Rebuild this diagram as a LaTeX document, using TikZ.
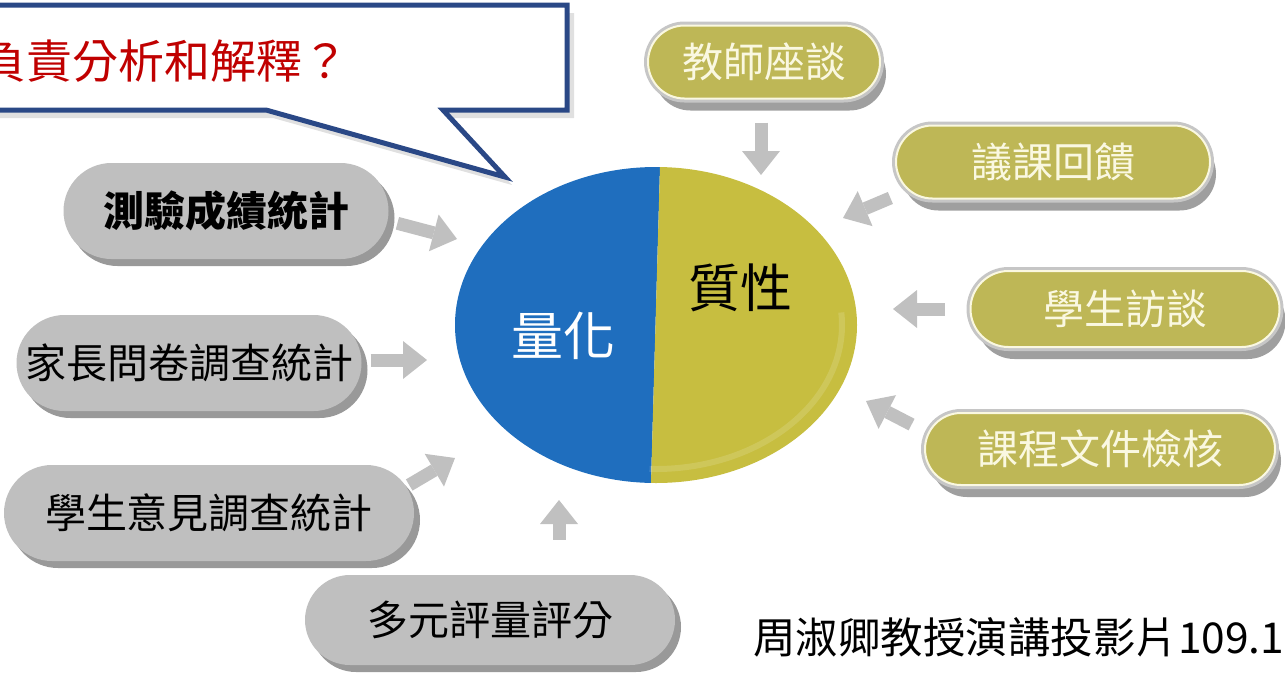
\documentclass[tikz,border=0pt]{standalone}
\usepackage{fontspec}
\newfontfamily\cjk{Noto Sans CJK TC}
\usetikzlibrary{shapes.misc,shadows,arrows.meta}
\definecolor{quantblue}{RGB}{31,110,190}
\definecolor{qualolive}{RGB}{199,190,64}
\definecolor{pillolive}{RGB}{190,183,86}
\definecolor{pillcream}{RGB}{250,248,225}
\definecolor{calloutblue}{RGB}{42,72,134}
\definecolor{callred}{RGB}{192,0,0}
\definecolor{arrowgray}{RGB}{192,192,192}
\newcommand{\pilltext}{\cjk\fontsize{41}{45}\selectfont}

\begin{document}
\begin{tikzpicture}[x=1pt,y=-1pt,
    graypill/.style={rounded rectangle, fill=gray!50, inner sep=0pt,
      general shadow={fill=gray!80, shadow xshift=6pt, shadow yshift=-7pt}},
    olivepill/.style={rounded rectangle, fill=pillolive, draw=pillcream, line width=2pt,
      inner sep=0pt, text=pillcream, font=\pilltext,
      general shadow={fill=gray!75, shadow xshift=6pt, shadow yshift=-12pt},
      preaction={draw=gray!45, line width=8pt}},
    blockarrow/.style={draw=arrowgray, line width=13pt,
      -{Triangle[width=38pt,length=24pt,line width=0pt]}}]
  \useasboundingbox (0,0) rectangle (1285,675);
  % speech bubble
  \draw[draw=calloutblue, line width=5pt, fill=white,
    general shadow={fill=black!12, shadow xshift=7pt, shadow yshift=-8pt}]
    (-20,5) -- (567,5) -- (567,110) -- (443,110) -- (505,177) -- (266,110) -- (-20,110) -- cycle;
  \node[anchor=west, inner sep=0pt, text=callred, font=\cjk\fontsize{46}{50}\selectfont]
    (question) at (-20,61) {負責分析和解釋？};
  % pie
  \coordinate (pie) at (656,325);
  \begin{scope}
    \clip (pie) ellipse [x radius=201, y radius=158];
    \fill[quantblue] (440,100) -- (661.9,100) -- (649.1,550) -- (440,550) -- cycle;
    \fill[qualolive] (661.9,100) -- (870,100) -- (870,550) -- (649.1,550) -- cycle;
    \draw[white, opacity=.14, line width=6pt] (pie) ++(-5:186 and 144)
      arc[start angle=-5, end angle=92, x radius=186, y radius=144];
  \end{scope}
  \node[text=white, font=\cjk\fontsize{52}{56}\selectfont] (quant) at (563,336) {量化};
  \node[text=black, font=\cjk\fontsize{52}{56}\selectfont] (qual) at (740,288) {質性};
  % qualitative sources
  \foreach \n/\px/\py/\w/\h/\txt in {t1/764/62/232/73/教師座談, t2/1053/162/314/73/議課回饋,
      t3/1125/309/309/76/學生訪談, t4/1100/449/350/72/課程文件檢核}{
    \node[olivepill, minimum width=\w, minimum height=\h] (\n) at (\px,\py) {\txt};
  }
  % quantitative sources
  \foreach \n/\px/\py/\w/\h/\f/\txt in {g1/226/211/325/96/\bfseries/測驗成績統計,
      g2/189/363/345/96/\relax/家長問卷調查統計, g3/209/513/410/96/\relax/學生意見調查統計,
      g4/490/620/370/90/\relax/多元評量評分}{
    \node[graypill, minimum width=\w, minimum height=\h, font=\pilltext\f] (\n) at (\px,\py) {\txt};
  }
  % arrows
  \coordinate (h1) at (761,175);
  \coordinate (h2) at (843,218);
  \coordinate (h3) at (893,309);
  \coordinate (h4) at (866,401);
  \coordinate (h5) at (457,239);
  \coordinate (h6) at (427,360);
  \coordinate (h7) at (455,458);
  \coordinate (h8) at (559,500);
  \draw[blockarrow, shorten <=23pt] (t1.south -| h1) -- (h1);
  \draw[blockarrow, shorten <=5pt] ([yshift=-34pt]t2.west) -- (h2);
  \draw[blockarrow, shorten <=25pt] (t3.west |- h3) -- (h3);
  \draw[blockarrow, shorten <=14pt] ([yshift=18pt]t4.west) -- (h4);
  \draw[blockarrow, shorten <=9pt] ([yshift=-10pt]g1.east) -- (h5);
  \draw[blockarrow, shorten <=9pt] (g2.east |- h6) -- (h6);
  \draw[blockarrow] ([xshift=-5pt,yshift=28pt]g3.east) -- (h7);
  \draw[blockarrow, shorten <=35pt] (g4.north -| h8) -- (h8);
  \node[anchor=west, inner sep=0pt, font=\cjk\fontsize{42.5}{46}\selectfont] (credit) at (753,637) {周淑卿教授演講投影片109.1};
\end{tikzpicture}
\end{document}
